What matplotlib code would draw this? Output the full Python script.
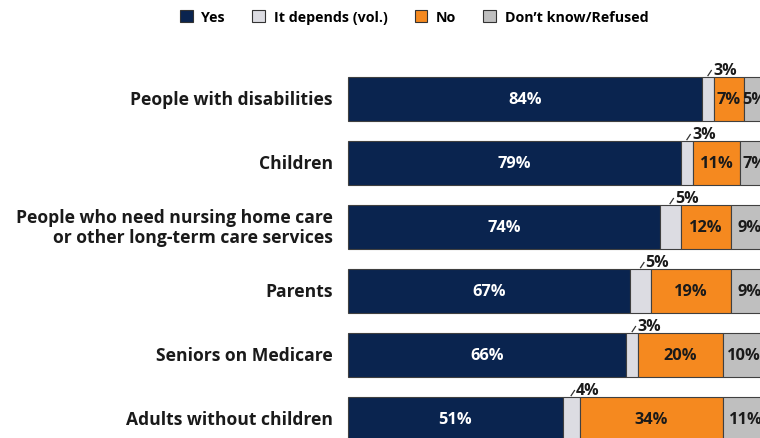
import matplotlib.pyplot as plt
from matplotlib.patches import Patch
import numpy as np

plt.rcParams['font.family'] = ['Open Sans', 'DejaVu Sans']

groups = ["People with disabilities", "Children",
          "People who need nursing home care\nor other long-term care services",
          "Parents", "Seniors on Medicare", "Adults without children"]
yes = [84, 79, 74, 67, 66, 51]
depends = [3, 3, 5, 5, 3, 4]
no = [7, 11, 12, 19, 20, 34]
dk = [5, 7, 9, 9, 10, 11]

names = ["Yes", "It depends (vol.)", "No", "Don\u2019t know/Refused"]
colors = ["#0a244f", "#dcdce2", "#f5891f", "#bfbfbf"]

fig = plt.figure(figsize=(7.6, 4.39), dpi=100)
# axes runs a little past the right and bottom edges, like the exported slide
ax = fig.add_axes([348 / 760, (439 - 452) / 439, 421 / 760, 384 / 439])
ax.set_xlim(0, 100)
ax.set_ylim(5.5, -0.5)
ax.axis('off')

h = 0.69
y = np.arange(len(groups))
left = np.zeros(len(groups))
series = [yes, depends, no, dk]
for i, vals in enumerate(series):
    vals = np.array(vals, dtype=float)
    ax.barh(y, vals, left=left, height=h, color=colors[i],
            edgecolor='#404040', linewidth=0.8, clip_on=False)
    for j, v in enumerate(vals):
        cx = left[j] + v / 2
        if i == 1:
            # small callout above the thin "it depends" slice
            top = y[j] - h / 2
            ax.plot([cx, cx + 0.8], [top - 0.02, top - 0.1], color='#333333',
                    lw=0.9, clip_on=False)
            ax.text(cx + 1.2, top + 0.01, f"{int(v)}%", ha='left', va='bottom',
                    fontsize=11.5, fontweight='bold', color='#1a1a1a',
                    clip_on=False)
        else:
            ax.text(cx, y[j], f"{int(v)}%", ha='center', va='center',
                    fontsize=11.8, fontweight='bold',
                    color='white' if i == 0 else '#1a1a1a', clip_on=False)
    left += vals

for j, g in enumerate(groups):
    ax.text(-3.6, y[j], g, ha='right', va='center', fontsize=12.6,
            fontweight='bold', color='#1a1a1a', linespacing=1.15)

handles = [Patch(facecolor=c, edgecolor='#333333', linewidth=0.8) for c in colors]
leg = fig.legend(handles, names, loc='center', bbox_to_anchor=(0.545, 1 - 18 / 439),
                 ncol=4, frameon=False, handlelength=0.9, handleheight=0.9,
                 columnspacing=1.9, handletextpad=0.6,
                 prop={'weight': 'bold', 'size': 10.3})

fig.savefig("out.png", dpi=100)
